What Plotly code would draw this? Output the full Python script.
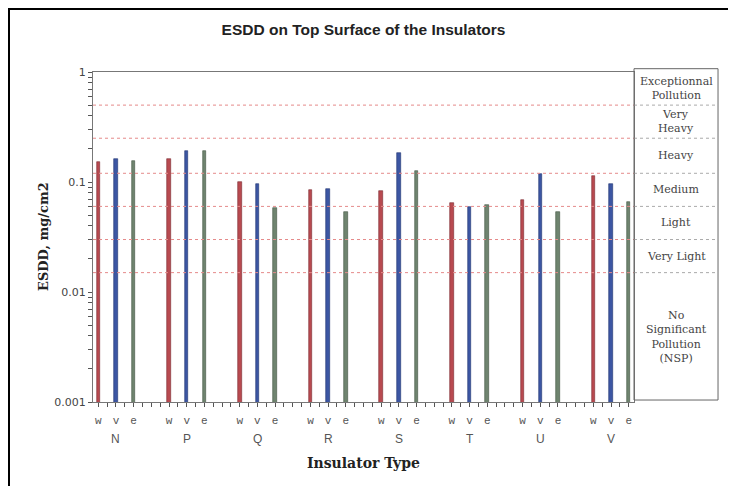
import math
import plotly.graph_objects as go

# ---- data ----
groups = ["N", "P", "Q", "R", "S", "T", "U", "V"]
subs = ["w", "v", "e"]
esdd_w = [0.153, 0.162, 0.101, 0.085, 0.082, 0.065, 0.069, 0.113]
esdd_v = [0.162, 0.191, 0.096, 0.087, 0.185, 0.059, 0.118, 0.096]
esdd_e = [0.156, 0.190, 0.058, 0.053, 0.126, 0.062, 0.053, 0.066]

# pollution severity class boundaries (mg/cm2) and class names (bottom to top)
boundaries = [0.015, 0.03, 0.06, 0.12, 0.25, 0.5]
classes = ["No<br>Significant<br>Pollution<br>(NSP)", "Very Light", "Light",
           "Medium", "Heavy", "Very<br>Heavy", "Exceptionnal<br>Pollution"]
y_min, y_max = 0.001, 1
y_major = [0.001, 0.01, 0.1, 1]

colors = {"w": "#b84a50", "v": "#3c56a3", "e": "#6f846f"}
edges = {"w": "#7a2a30", "v": "#1f3370", "e": "#3f503f"}
series = {"w": esdd_w, "v": esdd_v, "e": esdd_e}

fig = go.Figure()
for j, s in enumerate(subs):
    xs = [4 * g + j for g in range(len(groups))]
    fig.add_trace(go.Bar(
        x=xs, y=series[s], width=0.2, name=s,
        marker=dict(color=colors[s], line=dict(color=edges[s], width=0.6)),
        showlegend=False,
    ))

tickvals = [4 * g + j for g in range(len(groups)) for j in range(3)]
ticktext = [subs[j] for g in range(len(groups)) for j in range(3)]

# y ticks: every digit of each decade, labels only at decades
y_tickvals = []
y_ticktext = []
for d in range(-3, 1):
    for m in range(1, 10):
        v = m * 10 ** d
        if v > y_max * 1.0001:
            break
        y_tickvals.append(v)
        y_ticktext.append(f"{v:g}" if m == 1 else "")

fig.update_layout(
    width=736, height=486,
    margin=dict(l=85, r=110, t=64, b=92),
    paper_bgcolor="white", plot_bgcolor="white",
    bargap=0,
    title=dict(text="<b>ESDD on Top Surface of the Insulators</b>",
               font=dict(family="Liberation Sans", size=15.5, color="#222"),
               x=0.5, xref="paper", xanchor="center",
               y=1 - 22 / 486, yanchor="middle"),
    xaxis=dict(range=[-0.3, 30.3], tickvals=tickvals, ticktext=ticktext,
               ticks="outside", ticklen=4, tickcolor="#555",
               tickfont=dict(family="Liberation Mono", size=11, color="#555"),
               ticklabelstandoff=4,
               minor=dict(ticks="outside", ticklen=4, dtick=0.5, tick0=0,
                          tickcolor="#555"),
               showline=True, linecolor="#777", linewidth=1, mirror=True,
               showgrid=False, zeroline=False),
    yaxis=dict(type="log", range=[math.log10(y_min), math.log10(y_max)],
               tickmode="array", tickvals=y_tickvals, ticktext=y_ticktext,
               ticks="outside", ticklen=4, tickcolor="#555",
               tickfont=dict(family="DejaVu Sans", size=11, color="#444"),
               showline=True, linecolor="#777", linewidth=1, mirror=True,
               showgrid=False, zeroline=False),
)

# severity boundary lines: red dotted inside plot, grey dotted inside the label box
box_x1 = 1.1553
for b in boundaries:
    fig.add_shape(type="line", xref="paper", yref="y", x0=0, x1=1, y0=b, y1=b,
                  line=dict(color="#e58a8a", width=1, dash="dot"))
    fig.add_shape(type="line", xref="paper", yref="y", x0=1, x1=box_x1, y0=b, y1=b,
                  line=dict(color="#aaaaaa", width=1, dash="dot"))

# label box
fig.add_shape(type="rect", xref="paper", yref="paper", x0=1, x1=box_x1,
              y0=0.006, y1=1.01, line=dict(color="#666", width=1))

# class labels centered (geometrically) in each band
edges_all = [y_min] + boundaries + [y_max]
for k, name in enumerate(classes):
    lo, hi = edges_all[k], edges_all[k + 1]
    yc = (math.log10(lo) + math.log10(hi)) / 2
    fig.add_annotation(text=name, xref="paper", yref="y",
                       x=(1 + box_x1) / 2, y=yc, showarrow=False,
                       xanchor="center", yanchor="middle",
                       font=dict(family="DejaVu Serif", size=11, color="#444"))

# group letters
for g, name in enumerate(groups):
    fig.add_annotation(text=name, xref="x", yref="paper", x=4 * g + 1,
                       y=-37 / 330, showarrow=False, yanchor="middle",
                       font=dict(family="Liberation Sans", size=12, color="#555"))

# axis titles
fig.add_annotation(text="<b>Insulator Type</b>", xref="paper", yref="paper",
                   x=0.5, y=-61 / 330, showarrow=False, yanchor="middle",
                   font=dict(family="DejaVu Serif", size=14, color="#222"))
fig.add_annotation(text="<b>ESDD, mg/cm2</b>", xref="paper", yref="paper",
                   x=-50 / 541, y=0.5, showarrow=False, textangle=-90,
                   xanchor="center", yanchor="middle",
                   font=dict(family="DejaVu Serif", size=13, color="#222"))

# outer border (top and left visible)
fig.add_shape(type="rect", xref="paper", yref="paper",
              x0=-84 / 541, x1=1.25, y0=-0.3, y1=393 / 330,
              line=dict(color="black", width=2))

fig.write_html("out.html")
